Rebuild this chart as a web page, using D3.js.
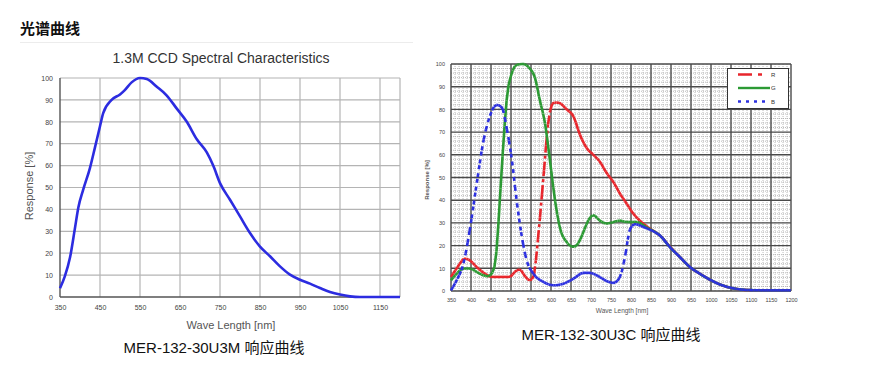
<!DOCTYPE html>
<html>
<head>
<meta charset="utf-8">
<script src="https://cdn.jsdelivr.net/npm/d3@7"></script>
<style>
  body { margin: 0; background: #fff; }
  svg { display: block; }
</style>
</head>
<body>
<div id="chart"></div>
<script>
// ---- data ----
var MONO_WL   = [350, 362, 375, 387, 396, 408, 425, 437, 450, 458, 479, 500, 512, 529, 550, 567, 592, 617, 642, 667, 692, 717, 733, 750, 775, 800, 825, 850, 875, 900, 925, 950, 975, 1000, 1025, 1050, 1075, 1100, 1150, 1200];
var MONO_RESP = [4, 9.4, 18, 31, 41, 49, 59, 68, 78, 84, 90, 92.5, 94.5, 98, 100, 99.5, 96, 92, 86, 80, 72, 66, 60, 52, 44.4, 36.8, 29.2, 23, 18.6, 14, 10.2, 7.9, 6.1, 4.1, 2.3, 1.1, 0.3, 0, 0, 0];

var R_WL   = [350, 364, 385, 397, 414, 435, 452, 472, 497, 510, 522, 535, 547, 556, 568, 581, 593, 606, 618, 639, 656, 672, 689, 706, 722, 739, 756, 772, 789, 806, 822, 843, 860, 872, 897, 922, 947, 972, 997, 1022, 1047, 1072, 1097, 1122, 1200];
var R_RESP = [6.2, 9.9, 14.3, 13.5, 10.6, 7.6, 6.2, 6.2, 6.2, 8.5, 9.5, 6.5, 4.7, 6.2, 24, 50, 74, 83, 83, 80, 77, 69, 63, 60, 57, 52, 48, 43, 38.5, 34, 31, 28, 26, 24.5, 19.6, 15, 10.6, 7.6, 5, 2.9, 1.5, 0.7, 0.4, 0.3, 0.3];

var G_WL   = [350, 364, 381, 397, 414, 431, 443, 456, 464, 472, 481, 489, 502, 514, 531, 547, 560, 572, 585, 597, 610, 622, 639, 656, 668, 681, 693, 706, 722, 739, 756, 772, 789, 814, 839, 860, 872, 897, 922, 947, 972, 997, 1022, 1047, 1072, 1097, 1122, 1200];
var G_RESP = [4.7, 7.6, 9.9, 9.9, 8.4, 6.9, 6.5, 9, 18, 40, 65, 84, 96, 99.6, 100, 98, 94, 84, 74, 58, 40, 28, 21.6, 19.4, 21, 26, 31, 33.4, 31, 29.7, 30.4, 31, 30.4, 30.4, 28, 26, 24.5, 19.4, 15, 10.6, 7.6, 5, 2.9, 1.5, 0.7, 0.4, 0.3, 0.3];

var B_WL   = [350, 364, 381, 397, 414, 431, 447, 464, 477, 489, 502, 514, 527, 539, 556, 581, 606, 631, 656, 681, 697, 714, 739, 756, 772, 785, 797, 810, 827, 847, 872, 897, 922, 947, 972, 997, 1022, 1047, 1072, 1097, 1122, 1200];
var B_RESP = [0.3, 4.7, 12, 27, 47, 66, 77, 82, 81, 72, 58, 40, 24, 13.5, 7.6, 4, 2.5, 3.2, 5.4, 8, 8, 6.9, 4.4, 3.5, 6, 15, 27, 29.5, 28.5, 27, 24.5, 19.4, 15, 10.6, 7.6, 5, 2.9, 1.5, 0.7, 0.4, 0.3, 0.3];

var MONO_X_TICKS = [350, 450, 550, 650, 750, 850, 950, 1050, 1150];
var RGB_X_TICKS  = [350, 400, 450, 500, 550, 600, 650, 700, 750, 800, 850, 900, 950, 1000, 1050, 1100, 1150, 1200];
var Y_TICKS      = [0, 10, 20, 30, 40, 50, 60, 70, 80, 90, 100];
var LEGEND_NAMES = ['R', 'G', 'B'];

var W = 880, H = 378;
var FONT_LATIN = 'Liberation Sans, Arial, sans-serif';
var FONT_CAPTION = 'Liberation Sans, Arial, "Noto Sans CJK SC", sans-serif';

var COLOR_MONO = '#2c2ce0';
var COLOR_R = '#e8262c';
var COLOR_G = '#2c9a34';
var COLOR_B = '#2c30e0';

var svg = d3.select('#chart').append('svg')
  .attr('width', W).attr('height', H);

// page heading
svg.append('text')
  .attr('x', 20).attr('y', 34)
  .attr('font-family', '"Noto Sans CJK SC", sans-serif')
  .attr('font-weight', 700)
  .attr('font-size', '15px')
  .attr('fill', '#111')
  .text('光谱曲线');

// faint frame of the left picture
svg.append('line')
  .attr('x1', 20).attr('x2', 413).attr('y1', 42.5).attr('y2', 42.5)
  .attr('stroke', '#ececec');

function pairsOf(xs, ys) {
  return xs.map(function (w, i) { return [w, ys[i]]; });
}

// dashes restart on every short piece, so flat parts read solid and steep parts dashed
function drawRestartDashed(g, pts, x, y, color, dash, width) {
  var line = d3.line()
    .x(function (d) { return x(d[0]); })
    .y(function (d) { return y(d[1]); })
    .curve(d3.curveMonotoneX);
  var tmp = g.append('path').attr('d', line(pts)).attr('fill', 'none');
  var node = tmp.node();
  var total = node.getTotalLength();
  var samples = [];
  var last = null;
  for (var s = 0; s <= total; s += 0.4) {
    var p = node.getPointAtLength(s);
    if (!last || p.x - last.x >= 2) { samples.push([p.x, p.y]); last = p; }
  }
  var end = node.getPointAtLength(total);
  samples.push([end.x, end.y]);
  tmp.remove();

  g.append('g').selectAll('line')
    .data(d3.pairs(samples))
    .join('line')
    .attr('x1', function (d) { return d[0][0]; })
    .attr('y1', function (d) { return d[0][1]; })
    .attr('x2', function (d) { return d[1][0]; })
    .attr('y2', function (d) { return d[1][1]; })
    .attr('stroke', color)
    .attr('stroke-width', width)
    .attr('stroke-dasharray', dash);
}

function styleAxisText(axisG, size) {
  axisG.select('.domain').remove();
  axisG.selectAll('text')
    .attr('font-family', FONT_LATIN)
    .attr('font-size', size + 'px')
    .attr('fill', '#444');
}

// ---------- left: mono sensor ----------
(function () {
  var x = d3.scaleLinear().domain([350, 1200]).range([60, 400]);
  var y = d3.scaleLinear().domain([0, 100]).range([297, 78]);
  var g = svg.append('g');

  g.append('text')
    .attr('x', 221).attr('y', 63)
    .attr('text-anchor', 'middle')
    .attr('font-family', FONT_LATIN)
    .attr('font-size', '14px')
    .attr('fill', '#333')
    .text('1.3M CCD Spectral Characteristics');

  g.append('g').selectAll('line')
    .data(MONO_X_TICKS.slice(1).concat([1200]))
    .join('line')
    .attr('x1', function (d) { return x(d); }).attr('x2', function (d) { return x(d); })
    .attr('y1', y(0)).attr('y2', y(100))
    .attr('stroke', '#b4b4b4').attr('stroke-width', 1.2);

  g.append('g').selectAll('line')
    .data(Y_TICKS.slice(1))
    .join('line')
    .attr('x1', x(350)).attr('x2', x(1200))
    .attr('y1', function (d) { return y(d); }).attr('y2', function (d) { return y(d); })
    .attr('stroke', '#b4b4b4').attr('stroke-width', 1.2);

  g.append('line')
    .attr('x1', x(350)).attr('x2', x(350)).attr('y1', y(0)).attr('y2', y(100))
    .attr('stroke', '#555').attr('stroke-width', 1.4);
  g.append('line')
    .attr('x1', x(350)).attr('x2', x(1200)).attr('y1', y(0)).attr('y2', y(0))
    .attr('stroke', '#555').attr('stroke-width', 1.4);

  var ax = g.append('g').attr('transform', 'translate(0,' + y(0) + ')')
    .call(d3.axisBottom(x).tickValues(MONO_X_TICKS).tickFormat(d3.format('d')).tickSize(0).tickPadding(8));
  styleAxisText(ax, 7);
  var ay = g.append('g').attr('transform', 'translate(' + x(350) + ',0)')
    .call(d3.axisLeft(y).tickValues(Y_TICKS).tickFormat(d3.format('d')).tickSize(0).tickPadding(7));
  styleAxisText(ay, 7);

  g.append('text')
    .attr('transform', 'translate(33,186) rotate(-90)')
    .attr('text-anchor', 'middle')
    .attr('font-family', FONT_LATIN)
    .attr('font-size', '11px')
    .attr('fill', '#555')
    .text('Response [%]');

  g.append('text')
    .attr('x', 231).attr('y', 329)
    .attr('text-anchor', 'middle')
    .attr('font-family', FONT_LATIN)
    .attr('font-size', '11px')
    .attr('fill', '#555')
    .text('Wave Length [nm]');

  var line = d3.line()
    .x(function (d) { return x(d[0]); })
    .y(function (d) { return y(d[1]); })
    .curve(d3.curveMonotoneX);
  g.append('path')
    .attr('d', line(pairsOf(MONO_WL, MONO_RESP)))
    .attr('fill', 'none')
    .attr('stroke', COLOR_MONO)
    .attr('stroke-width', 2.6);

  g.append('text')
    .attr('x', 214).attr('y', 353)
    .attr('text-anchor', 'middle')
    .attr('font-family', FONT_CAPTION)
    .attr('font-size', '15px')
    .attr('fill', '#111')
    .text('MER-132-30U3M 响应曲线');
})();

// ---------- right: colour sensor ----------
(function () {
  var x = d3.scaleLinear().domain([350, 1200]).range([451, 791]);
  var y = d3.scaleLinear().domain([0, 100]).range([291, 64]);
  var g = svg.append('g');

  // dotted minor grid: 10 nm and 2 %
  var minorX = d3.range(360, 1200, 10).filter(function (d) { return d % 50 !== 0; });
  var minorY = d3.range(2, 100, 2).filter(function (d) { return d % 10 !== 0; });
  g.append('g').selectAll('line')
    .data(minorX)
    .join('line')
    .attr('x1', function (d) { return x(d); }).attr('x2', function (d) { return x(d); })
    .attr('y1', y(0)).attr('y2', y(100))
    .attr('stroke', '#a8a8a8').attr('stroke-width', 0.8)
    .attr('stroke-dasharray', '1,1');
  g.append('g').selectAll('line')
    .data(minorY)
    .join('line')
    .attr('x1', x(350)).attr('x2', x(1200))
    .attr('y1', function (d) { return y(d); }).attr('y2', function (d) { return y(d); })
    .attr('stroke', '#a8a8a8').attr('stroke-width', 0.8)
    .attr('stroke-dasharray', '1,1');

  // major grid
  g.append('g').selectAll('line')
    .data(RGB_X_TICKS)
    .join('line')
    .attr('x1', function (d) { return x(d); }).attr('x2', function (d) { return x(d); })
    .attr('y1', y(0)).attr('y2', y(100))
    .attr('stroke', '#4a4a4a').attr('stroke-width', 1.4);
  g.append('g').selectAll('line')
    .data(Y_TICKS)
    .join('line')
    .attr('x1', x(350)).attr('x2', x(1200))
    .attr('y1', function (d) { return y(d); }).attr('y2', function (d) { return y(d); })
    .attr('stroke', '#4a4a4a').attr('stroke-width', 1.4);

  var ax = g.append('g').attr('transform', 'translate(0,' + y(0) + ')')
    .call(d3.axisBottom(x).tickValues(RGB_X_TICKS).tickFormat(d3.format('d')).tickSize(0).tickPadding(7));
  styleAxisText(ax, 5.5);
  var ay = g.append('g').attr('transform', 'translate(' + x(350) + ',0)')
    .call(d3.axisLeft(y).tickValues(Y_TICKS).tickFormat(d3.format('d')).tickSize(0).tickPadding(6));
  styleAxisText(ay, 5.5);

  g.append('text')
    .attr('transform', 'translate(429,180) rotate(-90)')
    .attr('text-anchor', 'middle')
    .attr('font-family', FONT_LATIN)
    .attr('font-size', '6px')
    .attr('font-weight', 700)
    .attr('fill', '#555')
    .text('Response [%]');

  g.append('text')
    .attr('x', 622).attr('y', 313)
    .attr('text-anchor', 'middle')
    .attr('font-family', FONT_LATIN)
    .attr('font-size', '6.5px')
    .attr('fill', '#555')
    .text('Wave Length [nm]');

  drawRestartDashed(g, pairsOf(R_WL, R_RESP), x, y, COLOR_R, '9,3,3,3', 2.6);
  drawRestartDashed(g, pairsOf(G_WL, G_RESP), x, y, COLOR_G, null, 2.6);
  drawRestartDashed(g, pairsOf(B_WL, B_RESP), x, y, COLOR_B, '4,4', 2.6);

  // legend
  var lg = g.append('g');
  lg.append('rect')
    .attr('x', 727.5).attr('y', 68.5).attr('width', 61).attr('height', 40)
    .attr('fill', '#fff').attr('stroke', '#333').attr('stroke-width', 1);
  var legendStyle = {
    R: { color: COLOR_R, dash: '14,6,4,30', x2: 763 },
    G: { color: COLOR_G, dash: null, x2: 770 },
    B: { color: COLOR_B, dash: '3,5', x2: 766 }
  };
  LEGEND_NAMES.forEach(function (name, i) {
    var st = legendStyle[name];
    var yy = 74.5 + i * 13.5;
    lg.append('line')
      .attr('x1', 738).attr('x2', st.x2).attr('y1', yy).attr('y2', yy)
      .attr('stroke', st.color).attr('stroke-width', 2.4)
      .attr('stroke-dasharray', st.dash);
    lg.append('text')
      .attr('x', 771).attr('y', yy + 2)
      .attr('font-family', FONT_LATIN)
      .attr('font-size', '6px')
      .attr('fill', '#333')
      .text(name);
  });

  g.append('text')
    .attr('x', 611).attr('y', 340)
    .attr('text-anchor', 'middle')
    .attr('font-family', FONT_CAPTION)
    .attr('font-size', '15px')
    .attr('fill', '#111')
    .text('MER-132-30U3C 响应曲线');
})();
</script>
</body>
</html>
